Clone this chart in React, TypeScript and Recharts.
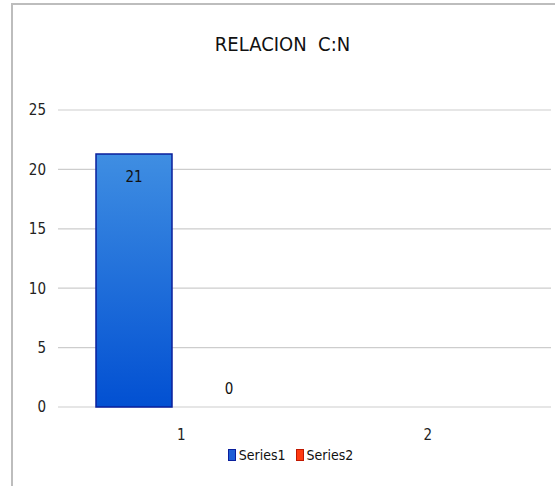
import { BarChart, Bar, XAxis, YAxis, CartesianGrid, Legend, LabelList } from 'recharts';

const categories = ['1', '2'];
const series1 = [21.3, null];
const series2 = [0, null];
const yTicks = [0, 5, 10, 15, 20, 25];

const data = categories.map((name, i) => ({ name, Series1: series1[i], Series2: series2[i] }));

const font = "'Liberation Sans Narrow', 'DejaVu Sans Condensed', 'Noto Sans', sans-serif";

const legendItems = [
  { label: 'Series1', fill: '#1f5fd6', border: '#0a1f9c' },
  { label: 'Series2', fill: '#ff3a10', border: '#c01800' },
];

function ChartLegend() {
  return (
    <div style={{ display: 'flex', justifyContent: 'center', gap: 10, fontFamily: font, fontSize: 14, color: '#111', marginLeft: 30 }}>
      {legendItems.map((it) => (
        <span key={it.label} style={{ display: 'flex', alignItems: 'center', gap: 3 }}>
          <span style={{ width: 6, height: 10, background: it.fill, border: `1px solid ${it.border}` }} />
          {it.label}
        </span>
      ))}
    </div>
  );
}

const hideNull = (v: any) => (v === null || v === undefined ? '' : String(Math.round(v)));
const labelStyle = { fontSize: 15, fill: '#111', fontFamily: font };

export default function App() {
  return (
    <div style={{ position: 'absolute', left: 0, top: 0, width: 555, height: 486, background: '#fff' }}>
      <div style={{ position: 'absolute', left: 11, top: 3, right: 0, bottom: 0, borderLeft: '2px solid #bdbdbd', borderTop: '2px solid #bdbdbd' }} />
      <div style={{ position: 'absolute', left: 0, width: 555, top: 32, textAlign: 'center', fontFamily: font, fontSize: 20, color: '#111', paddingLeft: 10, boxSizing: 'border-box' }}>
        RELACION&nbsp; C:N
      </div>
      <BarChart
        width={555}
        height={486}
        data={data}
        margin={{ top: 110, right: 4, left: 0, bottom: 19 }}
        barSize={76}
        barGap={19}
        style={{ position: 'absolute', left: 0, top: 0 }}
      >
        <defs>
          <linearGradient id="blueGrad" x1="0" y1="0" x2="0" y2="1">
            <stop offset="0%" stopColor="#3f8ee2" />
            <stop offset="100%" stopColor="#0250d2" />
          </linearGradient>
        </defs>
        <CartesianGrid vertical={false} stroke="#cdcdcd" strokeWidth={1.2} />
        <XAxis
          dataKey="name"
          axisLine={false}
          tickLine={false}
          height={40}
          tickMargin={16}
          tick={{ fontSize: 15, fill: '#222', fontFamily: font }}
        />
        <YAxis
          domain={[0, 25]}
          ticks={yTicks}
          width={58}
          axisLine={false}
          tickLine={false}
          tickMargin={6}
          tick={{ fontSize: 15, fill: '#222', fontFamily: font }}
        />
        <Legend verticalAlign="bottom" height={20} content={() => <ChartLegend />} />
        <Bar dataKey="Series1" fill="url(#blueGrad)" stroke="#0a1f9c" strokeWidth={1.5} isAnimationActive={false}>
          <LabelList dataKey="Series1" position="insideTop" offset={17} formatter={hideNull} style={labelStyle} />
        </Bar>
        <Bar dataKey="Series2" fill="#ff3a10" stroke="none" minPointSize={0.01} isAnimationActive={false}>
          <LabelList dataKey="Series2" position="top" offset={13} formatter={hideNull} style={labelStyle} />
        </Bar>
      </BarChart>
    </div>
  );
}
